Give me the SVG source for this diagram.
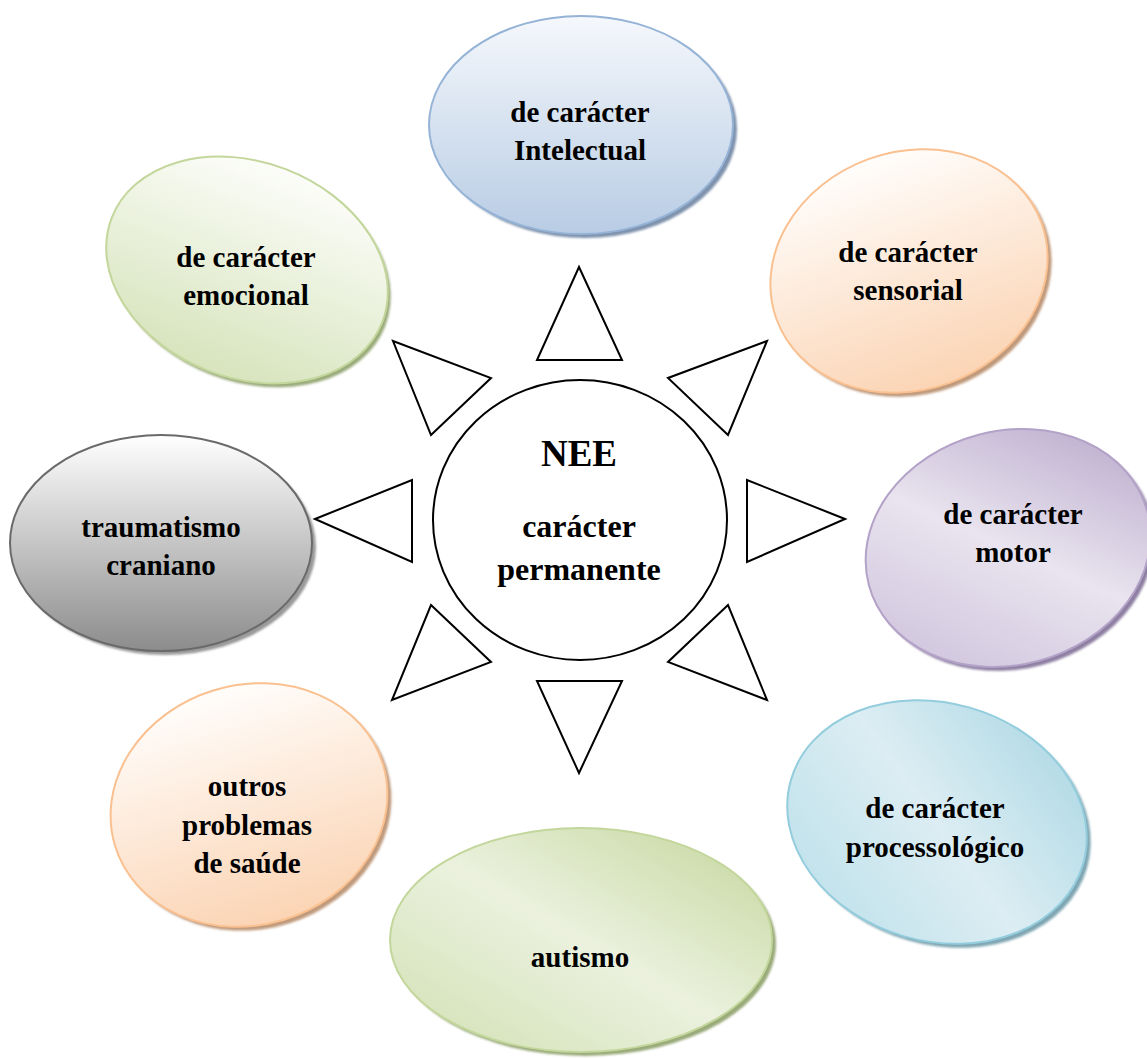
<svg xmlns="http://www.w3.org/2000/svg" width="1147" height="1059" viewBox="0 0 1147 1059">
<style>
text{font-family:"Liberation Serif","Times New Roman",serif;font-weight:bold;fill:#000;text-anchor:middle}
.t{font-size:29px}
.c{font-size:32px}
.nee{font-size:37px}
.tri{fill:#fff;stroke:#000;stroke-width:2;stroke-linejoin:miter}
.sh{filter:url(#blur)}
.ob{stroke-width:2}
</style>
<defs>
<filter id="blur" x="-10%" y="-10%" width="120%" height="120%"><feGaussianBlur stdDeviation="1.3"/></filter>
<linearGradient id="gBlue" x1="0" y1="0" x2="0" y2="1"><stop offset="0" stop-color="#f5f8fc"/><stop offset="1" stop-color="#b8cce4"/></linearGradient>
<linearGradient id="gGreenV" x1="0" y1="0" x2="0" y2="1"><stop offset="0" stop-color="#fcfdf9"/><stop offset="1" stop-color="#d7e4bd"/></linearGradient>
<linearGradient id="gPeach" x1="0" y1="0" x2="0" y2="1"><stop offset="0" stop-color="#fffdfb"/><stop offset="1" stop-color="#fbd4b4"/></linearGradient>
<linearGradient id="gGray" x1="0" y1="0" x2="0" y2="1"><stop offset="0" stop-color="#ffffff"/><stop offset="1" stop-color="#8c8c8c"/></linearGradient>
<linearGradient id="gPurple" x1="1" y1="0" x2="0" y2="1"><stop offset="0" stop-color="#b3a2c7"/><stop offset="0.5" stop-color="#e9e4ef"/><stop offset="1" stop-color="#c9bdd9"/></linearGradient>
<linearGradient id="gCyan" x1="1" y1="0" x2="0" y2="1"><stop offset="0" stop-color="#a6d5e2"/><stop offset="0.5" stop-color="#dcedf3"/><stop offset="1" stop-color="#b9dfe9"/></linearGradient>
<linearGradient id="gGreenD" x1="1" y1="0" x2="0" y2="1"><stop offset="0" stop-color="#c3d69b"/><stop offset="0.5" stop-color="#ebf1de"/><stop offset="1" stop-color="#d0e0b2"/></linearGradient>
</defs>

<g id="connectors">
<polygon class="tri" points="579,267 537,360 622,360"/>
<polygon class="tri" points="393,341 491,378 431,435"/>
<polygon class="tri" points="767,341 668,378 728,435"/>
<polygon class="tri" points="315,519 412,480 412,562"/>
<polygon class="tri" points="845,519 747,480 747,562"/>
<polygon class="tri" points="431,605 491,662 392,700"/>
<polygon class="tri" points="728,605 668,662 767,700"/>
<polygon class="tri" points="537,681 622,681 579,773"/>
</g>

<g id="node-center">
<ellipse cx="580" cy="520" rx="147" ry="140" fill="#fff" stroke="#000" stroke-width="2"/>
<text class="nee" x="579" y="466">NEE</text>
<text class="c" x="579" y="537">carácter</text>
<text class="c" x="579" y="580">permanente</text>
</g>

<g id="node-intelectual">
<ellipse class="sh" cx="585" cy="129" rx="152" ry="109" fill="#7f93ad"/>
<ellipse class="ob" cx="581" cy="125" rx="152" ry="109" fill="url(#gBlue)" stroke="#95b3d7"/>
<text class="t" x="580" y="122">de carácter</text>
<text class="t" x="580" y="160">Intelectual</text>
</g>

<g id="node-emocional">
<ellipse class="sh" transform="translate(250,274) rotate(21)" rx="145" ry="108" fill="#9aab7a"/>
<ellipse class="ob" transform="translate(247,270) rotate(21)" rx="145" ry="108" fill="url(#gGreenV)" stroke="#c3d69b"/>
<text class="t" x="246" y="267">de carácter</text>
<text class="t" x="246" y="305">emocional</text>
</g>

<g id="node-sensorial">
<ellipse class="sh" transform="translate(913,275) rotate(-20)" rx="141" ry="119" fill="#c09a7c"/>
<ellipse class="ob" transform="translate(909,271) rotate(-20)" rx="141" ry="119" fill="url(#gPeach)" stroke="#fac090"/>
<text class="t" x="908" y="262">de carácter</text>
<text class="t" x="908" y="300">sensorial</text>
</g>

<g id="node-traumatismo">
<ellipse class="sh" cx="165" cy="547" rx="151" ry="108" fill="#9a9a9a"/>
<ellipse class="ob" cx="161" cy="543" rx="151" ry="108" fill="url(#gGray)" stroke="#6a6a6a"/>
<text class="t" x="161" y="537">traumatismo</text>
<text class="t" x="161" y="575">craniano</text>
</g>

<g id="node-motor">
<ellipse class="sh" transform="translate(1012,552) rotate(-15)" rx="144" ry="117" fill="#8e7fa2"/>
<ellipse class="ob" transform="translate(1008,548) rotate(-15)" rx="144" ry="117" fill="url(#gPurple)" stroke="#b3a2c7"/>
<text class="t" x="1013" y="524">de carácter</text>
<text class="t" x="1013" y="562">motor</text>
</g>

<g id="node-processologico">
<ellipse class="sh" transform="translate(941,826) rotate(16)" rx="152" ry="119" fill="#7fa6b2"/>
<ellipse class="ob" transform="translate(937,822) rotate(16)" rx="152" ry="119" fill="url(#gCyan)" stroke="#93cddd"/>
<text class="t" x="935" y="818">de carácter</text>
<text class="t" x="935" y="857">processológico</text>
</g>

<g id="node-outros">
<ellipse class="sh" transform="translate(253,809) rotate(-17)" rx="140" ry="120" fill="#c09a7c"/>
<ellipse class="ob" transform="translate(249,805) rotate(-17)" rx="140" ry="120" fill="url(#gPeach)" stroke="#fac090"/>
<text class="t" x="247" y="796">outros</text>
<text class="t" x="247" y="835">problemas</text>
<text class="t" x="247" y="873">de saúde</text>
</g>

<g id="node-autismo">
<ellipse class="sh" cx="585" cy="944" rx="191" ry="112" fill="#9aab7a"/>
<ellipse class="ob" cx="581" cy="940" rx="191" ry="112" fill="url(#gGreenD)" stroke="#c3d69b"/>
<text class="t" x="580" y="967">autismo</text>
</g>
</svg>
